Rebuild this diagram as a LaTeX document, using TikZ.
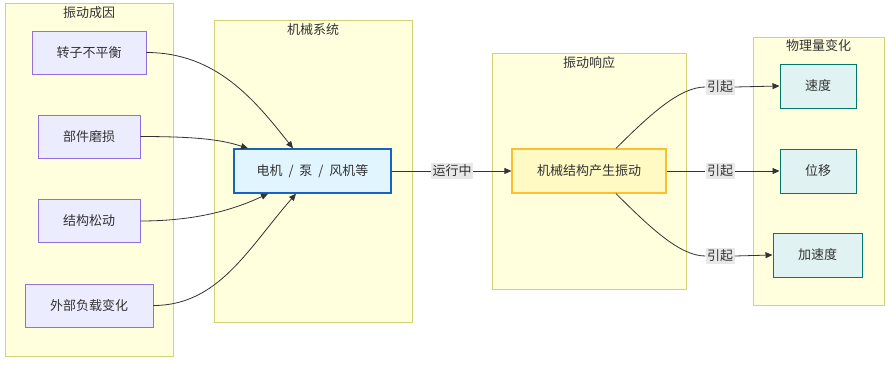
\documentclass[tikz,border=0pt]{standalone}
\usepackage{fontspec}
\setmainfont{Noto Sans CJK SC}
\usetikzlibrary{arrows.meta}
\definecolor{clfill}{HTML}{FFFFDE}
\definecolor{cldraw}{HTML}{D2D278}
\definecolor{cafill}{HTML}{ECECFF}
\definecolor{cadraw}{HTML}{9370DB}
\definecolor{mefill}{HTML}{E1F5FE}
\definecolor{medraw}{HTML}{1565C0}
\definecolor{vifill}{HTML}{FFF9C4}
\definecolor{vidraw}{HTML}{FBC02D}
\definecolor{phfill}{HTML}{E0F2F1}
\definecolor{phdraw}{HTML}{00796B}
\definecolor{txt}{HTML}{333333}
\definecolor{lblbg}{HTML}{E8E8E8}
\tikzset{
  cluster/.style={draw=cldraw,fill=clfill,line width=0.9pt,inner sep=0pt},
  ctitle/.style={text=txt,font=\fontsize{13}{15}\selectfont,inner sep=0pt},
  cause/.style={draw=cadraw,fill=cafill,line width=0.8pt,minimum height=43pt,text=txt,font=\fontsize{13}{15}\selectfont,inner sep=0pt},
  mech/.style={draw=medraw,fill=mefill,line width=1.4pt,minimum width=157pt,minimum height=44pt,text=txt,font=\fontsize{13}{15}\selectfont,inner sep=0pt},
  vib/.style={draw=vidraw,fill=vifill,line width=1.2pt,minimum width=154pt,minimum height=44pt,text=txt,font=\fontsize{13}{15}\selectfont,inner sep=0pt},
  phys/.style={draw=phdraw,fill=phfill,line width=1pt,minimum height=44pt,text=txt,font=\fontsize{13}{15}\selectfont,inner sep=0pt},
  edge/.style={draw=txt,line width=0.8pt,-{Triangle[length=7pt,width=6pt]}},
  plain/.style={draw=txt,line width=0.8pt},
  lbl/.style={fill=lblbg,text=txt,font=\fontsize{13}{15}\selectfont,inner sep=1.5pt}
}
\begin{document}
\begin{tikzpicture}[x=1pt,y=-1pt]
\useasboundingbox (0,0) rectangle (890,364);
% clusters
\node[cluster,minimum width=168pt,minimum height=353pt] (cl1) at (89,179.5) {};
\node[ctitle] (t1) at (89,13) {振动成因};
\node[cluster,minimum width=198pt,minimum height=302pt] (cl2) at (313,171) {};
\node[ctitle] (t2) at (313,30) {机械系统};
\node[cluster,minimum width=194pt,minimum height=236pt] (cl3) at (589,171) {};
\node[ctitle] (t3) at (589,63) {振动响应};
\node[cluster,minimum width=131pt,minimum height=268pt] (cl4) at (818.5,171) {};
\node[ctitle] (t4) at (818.5,46) {物理量变化};
% nodes
\node[cause,minimum width=114pt] (n1) at (89,52.5) {转子不平衡};
\node[cause,minimum width=102pt] (n2) at (89,136.5) {部件磨损};
\node[cause,minimum width=102pt] (n3) at (89,221) {结构松动};
\node[cause,minimum width=128pt] (n4) at (89,305.5) {外部负载变化};
\node[mech] (m) at (312.5,171) {电机\hspace{0.45em}/\hspace{0.45em}泵\hspace{0.45em}/\hspace{0.45em}风机等};
\node[vib] (v) at (589,171) {机械结构产生振动};
\node[phys,minimum width=76pt] (p1) at (818,86) {速度};
\node[phys,minimum width=76pt] (p2) at (818,171) {位移};
\node[phys,minimum width=89pt] (p3) at (817.5,255) {加速度};
% cause edges
\coordinate (m1) at ([xshift=-19.5pt]m.north);
\coordinate (m2) at ([xshift=-64.5pt]m.north);
\coordinate (m3) at ([xshift=-44.5pt]m.south);
\coordinate (m4) at ([xshift=-16.5pt]m.south);
\draw[edge] (n1.east) .. controls +(70,0) and +(-38,-48) .. (m1);
\draw[edge] (n2.east) .. controls +(60,0) and +(-25,-8) .. (m2);
\draw[edge] (n3.east) .. controls +(60,0) and +(-30,14) .. (m3);
\draw[edge] (n4.east) .. controls +(65,0) and +(-48,55) .. (m4);
% run label
\node[lbl] (l0) at (452,171) {运行中};
\draw[plain] (m.east) -- (l0.west);
\draw[edge] (l0.east) -- (v.west);
% response edges
\node[lbl] (l1) at (720,87) {引起};
\node[lbl] (l2) at (720,171) {引起};
\node[lbl] (l3) at (720,256) {引起};
\coordinate (v1) at ([xshift=27pt]v.north);
\coordinate (v3) at ([xshift=27pt]v.south);
\draw[plain] (v1) .. controls +(35,-35) and +(-25,0) .. (l1.west);
\draw[edge] (l1.east) -- (p1.west);
\draw[plain] (v.east) -- (l2.west);
\draw[edge] (l2.east) -- (p2.west);
\draw[plain] (v3) .. controls +(35,35) and +(-25,0) .. (l3.west);
\draw[edge] (l3.east) -- (p3.west);
\end{tikzpicture}
\end{document}
